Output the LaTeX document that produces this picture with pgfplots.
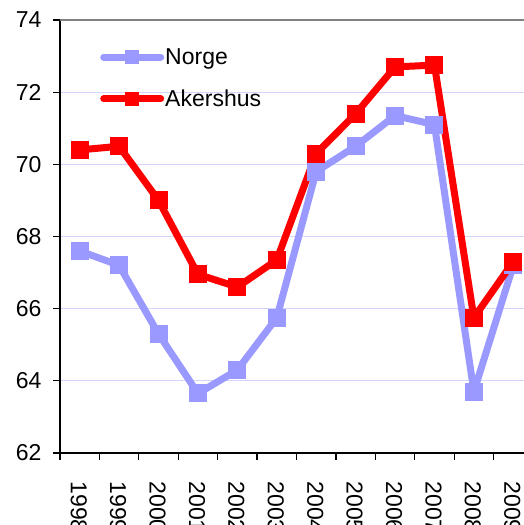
\documentclass[border=0pt]{standalone}
\usepackage{pgfplots}
\pgfplotsset{compat=1.18}
\usepackage{fontspec}
\setmainfont{Liberation Sans}
\definecolor{norge}{HTML}{9999FF}
\definecolor{aker}{HTML}{FF0000}
\definecolor{gridc}{HTML}{D4D4FA}
\begin{document}
\begin{tikzpicture}
\path[use as bounding box] (-60pt,-72pt) rectangle (464pt,453pt);
\clip (-60pt,-72pt) rectangle (464pt,453pt);
\begin{axis}[
  at={(0pt,0pt)}, anchor=south west,
  scale only axis, width=473pt, height=433pt,
  xmin=0.5, xmax=12.5, ymin=62, ymax=74,
  ytick={62,64,...,74},
  xtick={1,...,12},
  xticklabels={1998,1999,2000,2001,2002,2003,2004,2005,2006,2007,2008,2009},
  minor xtick={0.5,1.5,...,12.5},
  axis lines=left,
  axis line style={black, line width=1.5pt, -},
  x axis line style={black, line width=1.5pt},
  ymajorgrids,
  grid style={gridc, line width=1.2pt},
  major tick length=7pt,
  minor tick length=7pt,
  tick style={black, line width=1.2pt},
  xtick style={draw=none},
  minor x tick style={black, line width=1.2pt, draw=black},
  tick align=outside,
  /pgf/number format/assume math mode=true,
  ticklabel style={font=\fontsize{23}{27}\selectfont},
  yticklabel style={xshift=-8pt},
  xticklabel style={rotate=-90, anchor=west, yshift=-1pt, xshift=18pt},
  clip=false,
  legend style={draw=none, fill=none, at={(0.0846,0.935)}, anchor=north west,
    font=\fontsize{23}{27}\selectfont, row sep=24pt, inner sep=0pt,
    nodes={inner xsep=1pt, inner ysep=0pt}},
  legend cell align=left,
  legend image code/.code={\draw[#1, line cap=round, mark size=6.5pt, mark repeat=2, mark phase=2] plot coordinates {(0pt,0pt) (28pt,0pt) (57pt,0pt)};},
]
\draw[gray, line width=1.5pt] (rel axis cs:0,1) -- (rel axis cs:1,1);
\addplot[norge, line width=7pt, line join=round, mark=square*, mark size=8.5pt, mark options={line width=0pt}]
  coordinates {(1,67.6) (2,67.2) (3,65.3) (4,63.65) (5,64.3) (6,65.75) (7,69.8) (8,70.5) (9,71.35) (10,71.1) (11,63.7) (12,67.2)};
\addlegendentry{Norge}
\addplot[aker, line width=7pt, line join=round, mark=square*, mark size=8.5pt, mark options={line width=0pt}]
  coordinates {(1,70.4) (2,70.5) (3,69.0) (4,66.95) (5,66.6) (6,67.35) (7,70.3) (8,71.4) (9,72.7) (10,72.75) (11,65.75) (12,67.3)};
\addlegendentry{Akershus}
\end{axis}
\end{tikzpicture}
\end{document}
